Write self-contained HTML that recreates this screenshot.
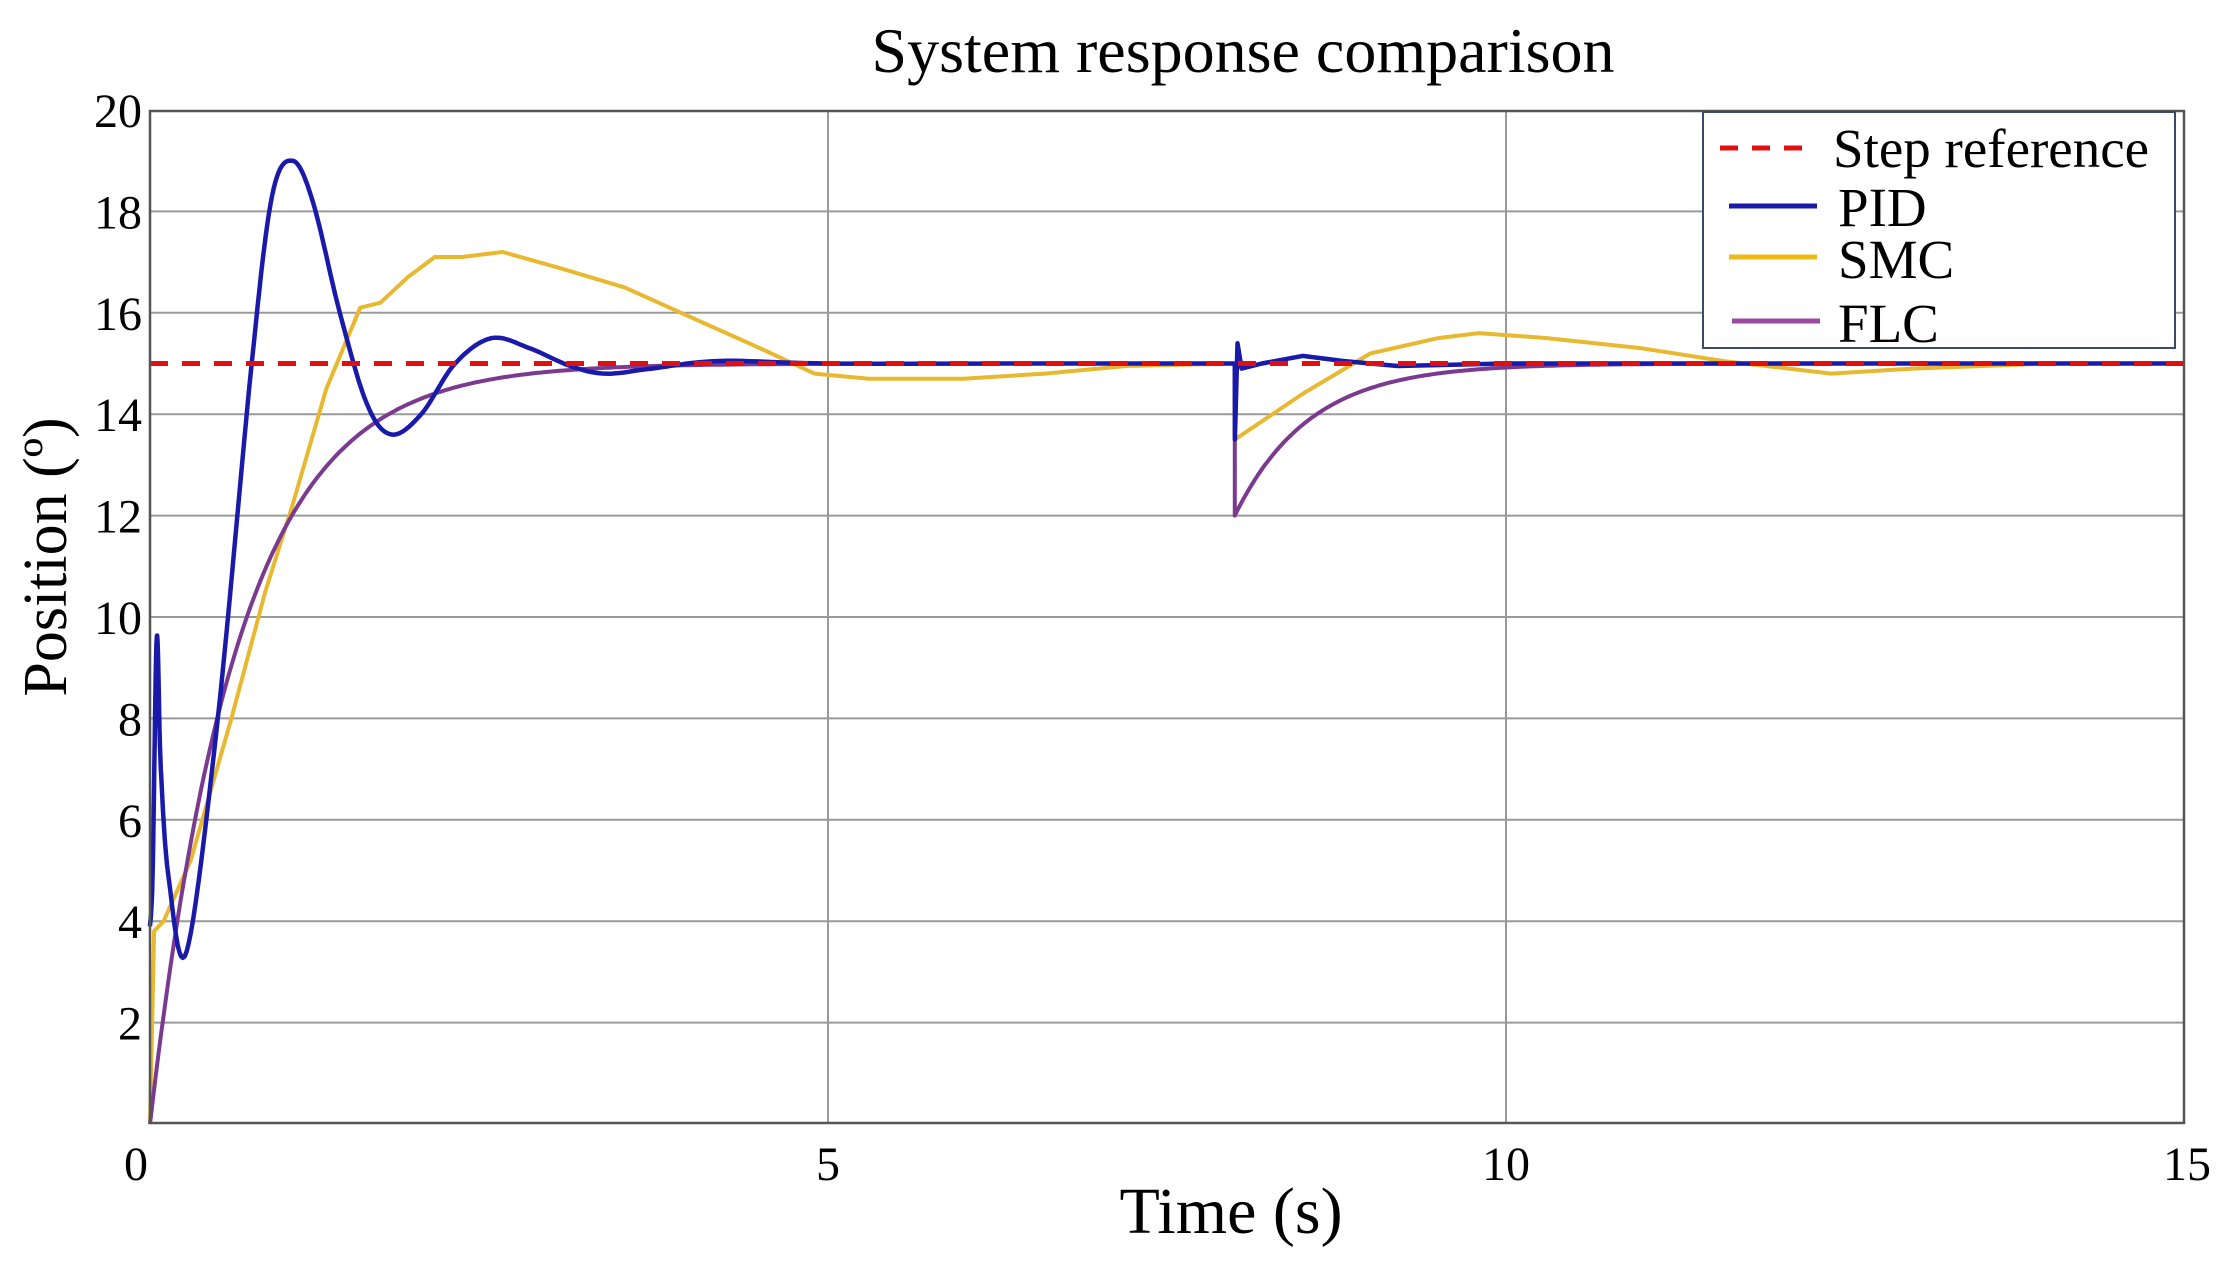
<!DOCTYPE html>
<html><head><meta charset="utf-8"><style>
html,body{margin:0;padding:0;background:#fff;}
svg{display:block;font-family:"Liberation Serif",serif;}
</style></head><body>
<svg id="s" width="2231" height="1270" viewBox="0 0 2231 1270" xmlns="http://www.w3.org/2000/svg">
<rect width="2231" height="1270" fill="#fff"/>
<g id="grid" stroke="#9a9a9a" stroke-width="2"></g>
<g id="curves" fill="none" stroke-linejoin="round"></g>
<rect x="150" y="111" width="2034" height="1012" fill="none" stroke="#555" stroke-width="2.5"/>
<g id="ticks" font-size="48" fill="#000"></g>
<text x="1243" y="72" font-size="64" text-anchor="middle">System response comparison</text>
<text x="1231" y="1233" font-size="66" text-anchor="middle">Time (s)</text>
<text transform="translate(66,557) rotate(-90)" font-size="62" text-anchor="middle">Position (º)</text>
<rect x="1703" y="112" width="472" height="236" fill="#fff" stroke="#3a4a6a" stroke-width="2"/>
<line x1="1720" y1="148" x2="1815" y2="148" stroke="#e01010" stroke-width="5" stroke-dasharray="18,14"/>
<line x1="1729" y1="206" x2="1817" y2="206" stroke="#1a1aaa" stroke-width="5"/>
<line x1="1729" y1="257" x2="1817" y2="257" stroke="#f0b818" stroke-width="5"/>
<line x1="1732" y1="321" x2="1820" y2="321" stroke="#9a4aa0" stroke-width="5"/>
<g font-size="55" fill="#000">
<text x="1833" y="167">Step reference</text>
<text x="1838" y="226">PID</text>
<text x="1838" y="278">SMC</text>
<text x="1838" y="342">FLC</text>
</g>
</svg>
<script>
var X=function(t){return 150+t*135.6;},Y=function(v){return 1124-50.7*v;};
var ns="http://www.w3.org/2000/svg";
function el(p,n,a,txt){var e=document.createElementNS(ns,n);for(var k in a)e.setAttribute(k,a[k]);if(txt!==undefined)e.textContent=txt;p.appendChild(e);return e;}
var g=document.getElementById('grid'),tk=document.getElementById('ticks');
for(var v=2;v<=18;v+=2){el(g,'line',{x1:150,x2:2184,y1:Y(v),y2:Y(v)});el(tk,'text',{x:142,y:Y(v)+17,'text-anchor':'end'},v);}
el(tk,'text',{x:142,y:Y(20)+17,'text-anchor':'end'},20);
[5,10].forEach(function(t){el(g,'line',{x1:X(t),x2:X(t),y1:111,y2:1123});});
[0,5,10,15].forEach(function(t){el(tk,'text',{x:X(t)-(t==0?14:0)+(t==15?3:0),y:1180,'text-anchor':'middle'},t);});
var c=document.getElementById('curves');
function cr(pts){var out=[];for(var i=0;i<pts.length-1;i++){var p0=pts[Math.max(0,i-1)],p1=pts[i],p2=pts[i+1],p3=pts[Math.min(pts.length-1,i+2)];
 for(var s=0;s<12;s++){var u=s/12,u2=u*u,u3=u2*u;
 var f=function(a,b,c2,d){return 0.5*((2*b)+(-a+c2)*u+(2*a-5*b+4*c2-d)*u2+(-a+3*b-3*c2+d)*u3);};
 out.push([f(p0[0],p1[0],p2[0],p3[0]),f(p0[1],p1[1],p2[1],p3[1])]);}}
 out.push(pts[pts.length-1]);return out;}
function path(pts,col,w,smooth){var q=smooth?cr(pts):pts;var d='M'+q.map(function(p){return X(p[0]).toFixed(1)+','+Y(p[1]).toFixed(1);}).join('L');el(c,'path',{d:d,stroke:col,'stroke-width':w});}
var smc=[[0,0],[0.03,3.8],[0.1,4],[0.3,5.2],[0.6,8],[0.85,10.5],[1.05,12.2],[1.3,14.5],[1.55,16.1],[1.7,16.2],[1.9,16.7],[2.1,17.1],[2.3,17.1],[2.6,17.2],[3.0,16.9],[3.5,16.5],[4.0,15.9],[4.5,15.3],[4.9,14.8],[5.3,14.7],[6.0,14.7],[6.6,14.8],[7.2,14.95],[8.0,15],[8.001,13.5],[8.5,14.4],[9.0,15.2],[9.5,15.5],[9.8,15.6],[10.3,15.5],[11,15.3],[11.6,15.05],[12.4,14.8],[13,14.9],[14,15],[15,15]];
path(smc,'#e8b830',4,false);
var flc=[];for(var t=0;t<=8;t+=0.02)flc.push([t,15-15*Math.exp(-t/0.65)]);
for(var t=8.0001;t<=15;t+=0.02)flc.push([t,15-3*Math.exp(-(t-8)/0.55)]);
path(flc,'#7a3a90',4,false);
var pid1=[[0,3.9],[0.02,5],[0.05,9.6],[0.08,7],[0.14,4.8],[0.27,3.4],[0.5,8],[0.75,15],[0.9,18.3],[1.05,19],[1.2,18.2],[1.4,16],[1.6,14.2],[1.78,13.6],[2.0,14.0],[2.25,15],[2.52,15.5],[2.8,15.3],[3.1,14.95],[3.36,14.8],[3.7,14.9],[4.2,15.05],[5,15],[6.5,15],[8,15]];
path(pid1,'#1a1aaa',4.5,true);
var pid2=[[8,15],[8.001,13.5],[8.02,15.4],[8.05,14.9],[8.2,15.0],[8.5,15.15],[8.8,15.05],[9.2,14.95],[10,15],[12,15],[15,15]];
path(pid2,'#1a1aaa',4.5,false);
el(c,'line',{x1:150,x2:2184,y1:Y(15),y2:Y(15),stroke:'#e01010','stroke-width':5,'stroke-dasharray':'18,14'});
</script>
</body></html>
